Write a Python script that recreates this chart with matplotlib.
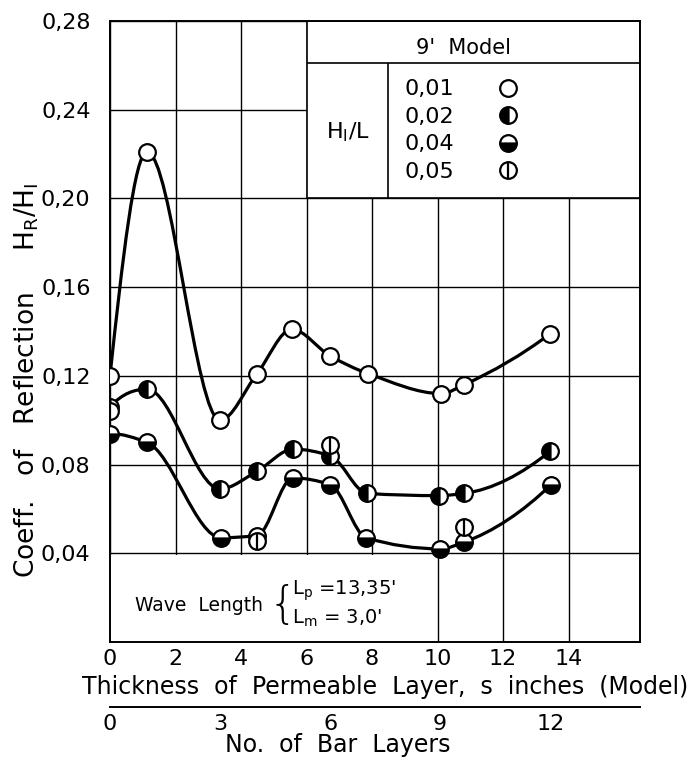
import numpy as np
import matplotlib
matplotlib.use("Agg")
import matplotlib.pyplot as plt
from matplotlib.path import Path
from matplotlib.patches import PathPatch, Rectangle
from matplotlib.lines import Line2D

# thickness s (inches, model) vs reflection coefficient H_R/H_I, one set per H_I/L
s_001 = [0.0, 1.13, 3.36, 4.49, 5.55, 6.72, 7.88, 10.12, 10.81, 13.44]
r_001 = [0.120, 0.221, 0.100, 0.121, 0.141, 0.129, 0.121, 0.112, 0.116, 0.139]

s_002 = [0.0, 1.13, 3.36, 4.49, 5.60, 6.72, 7.85, 10.05, 10.81, 13.44]
r_002 = [0.106, 0.114, 0.069, 0.077, 0.087, 0.084, 0.067, 0.066, 0.067, 0.086]

s_004 = [0.0, 1.13, 3.39, 4.49, 5.58, 6.72, 7.82, 10.08, 10.81, 13.47]
r_004 = [0.094, 0.090, 0.047, 0.048, 0.074, 0.071, 0.047, 0.042, 0.045, 0.071]

s_005 = [0.0, 4.49, 6.72, 10.81]
r_005 = [0.104, 0.0455, 0.089, 0.052]

legend_labels = ["0,01", "0,02", "0,04", "0,05"]
x_ticks = [0, 2, 4, 6, 8, 10, 12, 14]
y_ticks = [0.04, 0.08, 0.12, 0.16, 0.20, 0.24, 0.28]
y_ticklabels = ["0,04", "0,08", "0,12", "0,16", "0,20", "0,24", "0,28"]
layer_ticks = [0, 3, 6, 9, 12]
inches_per_layer = 1.12

plt.rcParams["font.family"] = ["DejaVu Sans"]
plt.rcParams["mathtext.default"] = "regular"


def smooth_path(x, y):
    # monotone cubic (pchip style) drawn as bezier segments
    x = np.asarray(x, float)
    y = np.asarray(y, float)
    h = np.diff(x)
    d = np.diff(y) / h
    m = np.zeros_like(y)
    for k in range(1, len(x) - 1):
        if d[k - 1] * d[k] > 0:
            w1 = 2 * h[k] + h[k - 1]
            w2 = h[k] + 2 * h[k - 1]
            m[k] = (w1 + w2) / (w1 / d[k - 1] + w2 / d[k])

    def end(h0, h1, d0, d1):
        mm = ((2 * h0 + h1) * d0 - h0 * d1) / (h0 + h1)
        if np.sign(mm) != np.sign(d0):
            return 0.0
        if np.sign(d0) != np.sign(d1) and abs(mm) > 3 * abs(d0):
            return 3 * d0
        return mm

    m[0] = end(h[0], h[1], d[0], d[1])
    m[-1] = end(h[-1], h[-2], d[-1], d[-2])
    verts = [(x[0], y[0])]
    codes = [Path.MOVETO]
    for k in range(len(h)):
        verts += [(x[k] + h[k] / 3, y[k] + m[k] * h[k] / 3),
                  (x[k + 1] - h[k] / 3, y[k + 1] - m[k + 1] * h[k] / 3),
                  (x[k + 1], y[k + 1])]
        codes += [Path.CURVE4] * 3
    return Path(verts, codes)


fig = plt.figure(figsize=(6.92, 7.66), dpi=100)
ax = fig.add_axes([110 / 692, 1 - 642 / 766, 530 / 692, 621 / 766])
ax.set_xlim(0, 16.18)
ax.set_ylim(0, 0.28)
ax.set_xticks(x_ticks)
ax.set_yticks(y_ticks)
ax.set_yticklabels(y_ticklabels)
ax.tick_params(length=0, labelsize=16)
ax.tick_params(axis="x", pad=5)
ax.tick_params(axis="y", pad=14)
ax.set_axisbelow(True)
ax.grid(color="black", lw=1.0)
for sp in ax.spines.values():
    sp.set_linewidth(1.4)

# boxes that hide the grid: legend table and wave-length note
ax.add_patch(Rectangle((6, 0.20), 10.18, 0.08, facecolor="white",
                       edgecolor="black", lw=1.2, zorder=1))
ax.add_patch(Rectangle((0, 0), 9, 0.0392, facecolor="white",
                       edgecolor="none", zorder=1))
ax.hlines(0.261, 6, 16.18, color="black", lw=1.2, zorder=1.2)
ax.vlines(8.49, 0.20, 0.261, color="black", lw=1.2, zorder=1.2)

# curves
for xs, ys in [(s_001, r_001), (s_002, r_002), (s_004, r_004)]:
    ax.add_patch(PathPatch(smooth_path(xs, ys), facecolor="none",
                           edgecolor="black", lw=2.3, zorder=2,
                           capstyle="round"))

ms = 12
mew = 1.6
ax.plot(s_001, r_001, "o", ms=ms, mfc="white", mec="black", mew=mew, zorder=3)
ax.plot(s_002, r_002, "o", ms=ms, fillstyle="left", mfc="black",
        mfcalt="white", mec="black", mew=mew, zorder=3)
ax.plot(s_004, r_004, "o", ms=ms, fillstyle="bottom", mfc="black",
        mfcalt="white", mec="black", mew=mew, zorder=3)
ax.plot(s_005, r_005, "o", ms=ms, mfc="white", mec="black", mew=mew, zorder=3)
ax.plot(s_005, r_005, "|", ms=ms, mec="black", mew=mew, zorder=3.1)

# legend table
h1 = Line2D([], [], ls="none", marker="o", ms=ms, mfc="white", mec="black", mew=mew)
h2 = Line2D([], [], ls="none", marker="o", ms=ms, fillstyle="left", mfc="black",
            mfcalt="white", mec="black", mew=mew)
h3 = Line2D([], [], ls="none", marker="o", ms=ms, fillstyle="bottom", mfc="black",
            mfcalt="white", mec="black", mew=mew)
h4a = Line2D([], [], ls="none", marker="o", ms=ms, mfc="white", mec="black", mew=mew)
h4b = Line2D([], [], ls="none", marker="|", ms=ms, mec="black", mew=mew)
ax.legend([h1, h2, h3, (h4a, h4b)], legend_labels, markerfirst=False,
          frameon=False, loc="upper left", bbox_to_anchor=(9.0, 0.2537),
          bbox_transform=ax.transData, fontsize=16, handlelength=1.0,
          handletextpad=1.9, labelspacing=0.34, borderpad=0, borderaxespad=0)

ax.text(10.78, 0.2678, "9'  Model", fontsize=15, ha="center", va="center")
ax.text(7.27, 0.2297, "H$_\\mathrm{I}$/L", fontsize=16, ha="center", va="center")

ax.text(0.76, 0.0166, "Wave  Length", fontsize=13.5, ha="left", va="center", zorder=3)
ax.text(5.28, 0.0163, "{", fontsize=32, ha="center", va="center", zorder=3,
        fontweight="light")
ax.text(5.55, 0.0229, "L$_\\mathrm{p}$ =13,35'", fontsize=14, ha="left",
        va="center", zorder=3)
ax.text(5.55, 0.0108, "L$_\\mathrm{m}$ = 3,0'", fontsize=14, ha="left",
        va="center", zorder=3)

# second scale: number of bar layers
sec = ax.secondary_xaxis(-65 / 621, functions=(lambda s: s / inches_per_layer,
                                               lambda n: n * inches_per_layer))
sec.set_xticks(layer_ticks)
sec.tick_params(length=0, labelsize=16, pad=5)
sec.spines["bottom"].set_linewidth(1.4)

fig.text(27 / 692, 1 - 380 / 766,
         "Coeff.   of   Reflection     H$_\\mathrm{R}$/H$_\\mathrm{I}$",
         rotation=90, fontsize=19, ha="center", va="center")
fig.text(385 / 692, 1 - 687 / 766,
         "Thickness  of  Permeable  Layer,  s  inches  (Model)",
         fontsize=17, ha="center", va="center")
fig.text(338 / 692, 1 - 745 / 766, "No.  of  Bar  Layers",
         fontsize=17, ha="center", va="center")

fig.savefig("out.png", dpi=100)
